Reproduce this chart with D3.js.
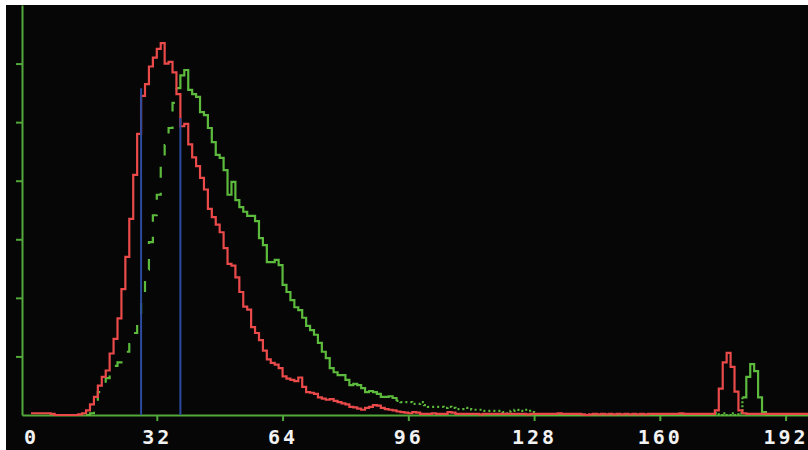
<!DOCTYPE html>
<html>
<head>
<meta charset="utf-8">
<script src="https://cdn.jsdelivr.net/npm/d3@7"></script>
<style>
  html, body { margin: 0; padding: 0; background: #fff; }
  svg { display: block; }
</style>
</head>
<body>
<script>
// histogram counts, one value per channel (0..197)
const redCounts = [
  3, 3, 3, 3, 3, 2, 0, 0, 0, 0,
  0, 0, 1, 3, 8, 18, 31, 50, 65, 76,
  105, 130, 165, 215, 270, 335, 410, 480, 545, 565,
  595, 610, 625, 635, 600, 603, 585, 548, 493, 497,
  462, 440, 425, 405, 385, 352, 338, 325, 312, 285,
  258, 255, 235, 210, 185, 180, 150, 140, 128, 110,
  95, 89, 86, 80, 66, 62, 60, 58, 64, 48,
  39, 38, 36, 30, 28, 26, 27, 24, 22, 20,
  18, 14, 13, 11, 9, 12, 14, 17, 16, 12,
  10, 9, 8, 6, 5, 4, 3, 5, 4, 2,
  2, 2, 3, 2, 2, 2, 5, 4, 2, 2,
  2, 2, 2, 2, 1, 2, 2, 2, 2, 2,
  2, 2, 2, 2, 2, 2, 1, 2, 2, 2,
  2, 2, 2, 2, 3, 2, 2, 2, 2, 2,
  1, 0, 1, 2, 1, 2, 1, 2, 1, 2,
  1, 2, 1, 2, 1, 2, 1, 2, 2, 2,
  2, 2, 2, 2, 2, 3, 2, 2, 2, 2,
  2, 2, 2, 2, 8, 45, 90, 106, 82, 40,
  8, 3, 2, 2, 2, 2, 2, 2, 2, 2,
  2, 2, 2, 2, 2, 2, 2, 2
];

const greenCounts = [
  0, 0, 0, 0, 0, 0, 0, 0, 0, 0,
  0, 0, 0, 0, 0, 3, 26, 39, 51, 63,
  73, 84, 90, 99, 108, 121, 140, 171, 205, 248,
  295, 341, 376, 427, 461, 490, 533, 558, 580, 589,
  555, 548, 543, 517, 512, 490, 466, 444, 439, 418,
  376, 398, 367, 355, 347, 340, 340, 331, 302, 290,
  261, 261, 265, 256, 222, 210, 196, 184, 179, 166,
  152, 145, 137, 123, 108, 97, 80, 73, 68, 68,
  60, 51, 53, 51, 46, 39, 41, 39, 36, 31,
  31, 32, 29, 24, 22, 22, 22, 19, 19, 22,
  17, 14, 14, 14, 14, 12, 14, 12, 10, 10,
  12, 10, 9, 9, 9, 7, 7, 7, 7, 7,
  5, 3, 7, 9, 7, 7, 9, 5, 0, 0,
  0, 0, 0, 0, 0, 0, 0, 0, 0, 0,
  0, 0, 0, 0, 0, 0, 0, 0, 0, 0,
  0, 0, 0, 0, 0, 0, 0, 0, 0, 0,
  0, 0, 0, 0, 0, 0, 0, 0, 0, 0,
  0, 0, 0, 0, 3, 0, 3, 0, 3, 0,
  3, 30, 65, 87, 75, 30, 5, 0, 0, 0,
  0, 0, 0, 0, 0, 0, 0, 0
];

// gate markers (blue)
const markerChannels = [28, 38];
const markerHeights = [558, 507];

const xTickLabels = [0, 32, 64, 96, 128, 160, 192];
const yTickValues = [100, 200, 300, 400, 500, 600];

// how the green trace is stroked, by channel range
const greenSegments = [
  { from: 14, to: 37, dash: "11,15" },
  { from: 37, to: 93, dash: null },
  { from: 93, to: 128, dash: "2,3" },
  { from: 128, to: 174, dash: null },
  { from: 174, to: 181, dash: "2,2" },
  { from: 181, to: 198, dash: null }
];

const width = 808;
const height = 450;

const RED = "#ea4a4a";
const GREEN = "#5cba3c";
const AXIS = "#52a83a";
const BLUE = "#2c4a9e";

const svg = d3.select("body")
  .append("svg")
  .attr("width", width)
  .attr("height", height);

svg.append("rect")
  .attr("x", 6)
  .attr("y", 5)
  .attr("width", width - 6)
  .attr("height", height - 5)
  .attr("fill", "#060606");

const x = d3.scaleLinear().domain([-2.3, 197.7]).range([22, 808]);
const y = d3.scaleLinear().domain([0, 700]).range([415, 5]);

function toPoints(counts) {
  const pts = counts.map((v, i) => [i, v]);
  pts.push([counts.length, counts[counts.length - 1]]);
  return pts;
}

const stepLine = d3.line()
  .x(d => x(d[0]))
  .y(d => y(d[1]))
  .curve(d3.curveStepAfter);

// axes
const xAxis = svg.append("g")
  .attr("transform", `translate(0,${y(0)})`)
  .call(d3.axisBottom(x).tickValues(xTickLabels).tickSize(6).tickSizeOuter(0));

xAxis.select(".domain").attr("stroke", AXIS).attr("stroke-width", 2);
xAxis.selectAll(".tick line").attr("stroke", AXIS).attr("stroke-width", 2);
xAxis.selectAll(".tick").filter(d => d === 0).select("line").remove();
xAxis.selectAll(".tick text")
  .attr("y", 29)
  .attr("dy", 0)
  .attr("fill", "#f2f2f2")
  .style("font-family", "'DejaVu Sans Mono', monospace")
  .style("font-weight", "bold")
  .style("font-size", "20px")
  .style("letter-spacing", "3px");

const yAxis = svg.append("g")
  .attr("transform", `translate(${x.range()[0]},0)`)
  .call(d3.axisLeft(y).tickValues(yTickValues).tickSize(6).tickSizeOuter(0).tickFormat(""));

yAxis.select(".domain").attr("stroke", AXIS).attr("stroke-width", 2);
yAxis.selectAll(".tick line").attr("stroke", AXIS).attr("stroke-width", 2);

// green trace, drawn in pieces
const greenPts = toPoints(greenCounts);
svg.append("g")
  .selectAll("path")
  .data(greenSegments)
  .join("path")
  .attr("d", s => stepLine(greenPts.slice(s.from, s.to + 1)))
  .attr("fill", "none")
  .attr("stroke", GREEN)
  .attr("stroke-width", 2.2)
  .attr("stroke-dasharray", s => s.dash);

// red trace
svg.append("path")
  .attr("d", stepLine(toPoints(redCounts)))
  .attr("fill", "none")
  .attr("stroke", RED)
  .attr("stroke-width", 2.2);

// blue gate markers
svg.append("g")
  .selectAll("line")
  .data(markerChannels)
  .join("line")
  .attr("x1", d => x(d))
  .attr("x2", d => x(d))
  .attr("y1", y(0))
  .attr("y2", (d, i) => y(markerHeights[i]))
  .attr("stroke", BLUE)
  .attr("stroke-width", 2);
</script>
</body>
</html>
